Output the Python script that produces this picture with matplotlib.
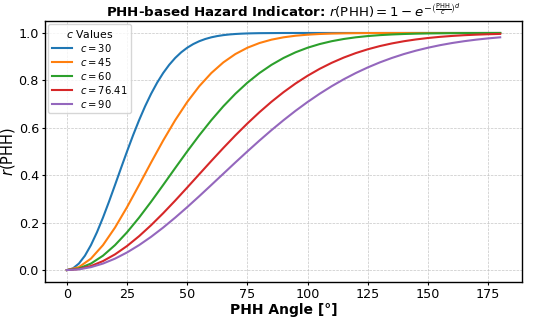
import matplotlib
matplotlib.use('Agg')
import matplotlib.pyplot as plt

# PHH angle samples (deg)
angles = list(range(0, 185, 5))
# the c=30 curve bends sharply, so it is read at a finer step
angles_c30 = [0, 2.5, 5, 7.5, 10, 12.5, 15, 17.5, 20, 22.5, 25, 27.5, 30, 32.5, 35, 37.5,
              40, 42.5, 45, 47.5, 50, 52.5, 55, 57.5, 60, 62.5, 65, 67.5, 70, 72.5, 75,
              77.5, 80, 90, 100, 120, 140, 160, 180]

c_labels = ['30', '45', '60', '76.41', '90']

r_c30 = [0.0, 0.0069, 0.0274, 0.0606, 0.1052, 0.1594, 0.2212, 0.2884, 0.3588, 0.4302,
         0.5006, 0.5684, 0.6321, 0.6908, 0.7436, 0.7904, 0.8310, 0.8656, 0.8946, 0.9185,
         0.9378, 0.9532, 0.9653, 0.9746, 0.9817, 0.9870, 0.9909, 0.9937, 0.9957, 0.9971,
         0.9981, 0.9987, 0.9992, 0.9999, 1.0, 1.0, 1.0, 1.0, 1.0]
r_c45 = [0.0, 0.0123, 0.0482, 0.1052, 0.1792, 0.2655, 0.3588, 0.4539, 0.5462, 0.6321,
         0.7090, 0.7755, 0.8310, 0.8759, 0.9111, 0.9378, 0.9576, 0.9718, 0.9817, 0.9884,
         0.9928, 0.9957, 0.9975, 0.9985, 0.9992, 0.9996, 0.9998, 0.9999, 0.9999, 1.0,
         1.0, 1.0, 1.0, 1.0, 1.0, 1.0, 1.0]
r_c60 = [0.0, 0.0069, 0.0274, 0.0606, 0.1052, 0.1594, 0.2212, 0.2884, 0.3588, 0.4302,
         0.5006, 0.5684, 0.6321, 0.6908, 0.7436, 0.7904, 0.8310, 0.8656, 0.8946, 0.9185,
         0.9378, 0.9532, 0.9653, 0.9746, 0.9817, 0.9870, 0.9909, 0.9937, 0.9957, 0.9971,
         0.9981, 0.9987, 0.9992, 0.9995, 0.9997, 0.9998, 0.9999]
r_c76 = [0.0, 0.0043, 0.0170, 0.0378, 0.0662, 0.1015, 0.1429, 0.1893, 0.2397, 0.2930,
         0.3483, 0.4043, 0.4602, 0.5150, 0.5680, 0.6184, 0.6658, 0.7099, 0.7503, 0.7869,
         0.8196, 0.8487, 0.8741, 0.8962, 0.9151, 0.9312, 0.9447, 0.9559, 0.9652, 0.9727,
         0.9788, 0.9837, 0.9875, 0.9906, 0.9929, 0.9947, 0.9961]
r_c90 = [0.0, 0.0031, 0.0123, 0.0274, 0.0482, 0.0743, 0.1052, 0.1403, 0.1792, 0.2212,
         0.2655, 0.3116, 0.3588, 0.4064, 0.4539, 0.5006, 0.5462, 0.5902, 0.6321, 0.6718,
         0.7090, 0.7436, 0.7755, 0.8046, 0.8310, 0.8547, 0.8759, 0.8946, 0.9111, 0.9254,
         0.9378, 0.9485, 0.9576, 0.9653, 0.9718, 0.9772, 0.9817]

series = [(angles_c30, r_c30), (angles, r_c45), (angles, r_c60), (angles, r_c76), (angles, r_c90)]
colors = ['tab:blue', 'tab:orange', 'tab:green', 'tab:red', 'tab:purple']

fig = plt.figure(figsize=(5.38, 3.2), dpi=100)
ax = fig.add_axes([0.084, 0.119, 0.886, 0.815])

for lab, (x, r), col in zip(c_labels, series, colors):
    ax.plot(x, r, color=col, lw=1.5, label=f'$c = {lab}$')

ax.set_title(r'PHH-based Hazard Indicator: $r(\mathrm{PHH}) = 1 - e^{-\left(\frac{\mathrm{PHH}}{c}\right)^d}$',
             fontsize=9.6, fontweight='bold', pad=3)
ax.set_xlabel('PHH Angle [°]', fontsize=10, fontweight='bold', labelpad=1)
ax.set_ylabel(r'$r$(PHH)', fontsize=10.5, labelpad=1)
ax.tick_params(labelsize=9.2, length=2.5, pad=2, width=0.8)
ax.set_xticks([0, 25, 50, 75, 100, 125, 150, 175])
for s in ax.spines.values():
    s.set_linewidth(1.0)
ax.grid(True, linestyle='--', color='0.72', lw=0.5, alpha=0.8)
ax.legend(title='$c$ Values', fontsize=7.2, title_fontsize=7.8, loc='upper left',
          handlelength=2.0, borderpad=0.35, labelspacing=0.2, borderaxespad=0.3)

fig.savefig('out.png', dpi=100)
